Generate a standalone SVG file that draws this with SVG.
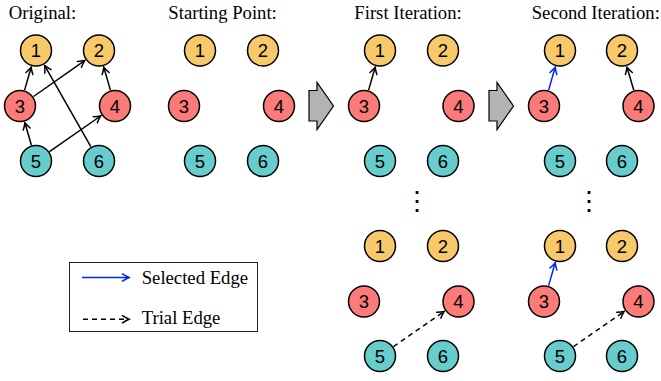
<svg xmlns="http://www.w3.org/2000/svg" width="661" height="381" viewBox="0 0 661 381">
<style>
.title{font-family:"Liberation Serif","Times New Roman",serif;font-size:18.7px;fill:#000}
.lbl{font-family:"Liberation Sans",Arial,sans-serif;font-size:18.5px;fill:#000;text-anchor:middle}
.n circle{stroke:#000;stroke-width:1.5}
.y circle{fill:#F7C96B}
.r circle{fill:#FA7B78}
.c circle{fill:#66CCCC}
.e{stroke:#000;stroke-width:1.5;fill:none}
.blue{stroke:#0022ff}
.dash{stroke-dasharray:5,4}
.big{fill:#B3B3B3;stroke:#000;stroke-width:1.2}
.vd{font-family:"DejaVu Serif",serif;font-size:26px;text-anchor:middle;fill:#000}
</style>
<defs>
<marker id="ak" viewBox="-9 -5 11 10" markerWidth="11" markerHeight="10" refX="0" refY="0" orient="auto" markerUnits="userSpaceOnUse">
<path d="M-6.5,-3.6 Q-2.7,-1.1 0,0 Q-2.7,1.1 -6.5,3.6" fill="none" stroke="#000" stroke-width="1.5" stroke-linecap="round"/>
</marker>
<marker id="ab" viewBox="-9 -5 11 10" markerWidth="11" markerHeight="10" refX="0" refY="0" orient="auto" markerUnits="userSpaceOnUse">
<path d="M-6.5,-3.6 Q-2.7,-1.1 0,0 Q-2.7,1.1 -6.5,3.6" fill="none" stroke="#0022ff" stroke-width="1.5" stroke-linecap="round"/>
</marker>
</defs>

<g id="titles">
<text class="title" x="8.7" y="18.5">Original:</text>
<text class="title" x="168.3" y="18.5">Starting Point:</text>
<text class="title" x="354.3" y="18.5">First Iteration:</text>
<text class="title" x="531.7" y="18.5">Second Iteration:</text>
</g>

<g id="connectors">
<line class="e" x1="24.6" y1="90.1" x2="31.2" y2="67.3" marker-end="url(#ak)"/>
<line class="e" x1="33.5" y1="96.5" x2="84.7" y2="60.6" marker-end="url(#ak)"/>
<line class="e" x1="90.8" y1="146.7" x2="44.7" y2="65.7" marker-end="url(#ak)"/>
<line class="e" x1="110.4" y1="90.1" x2="103.8" y2="67.3" marker-end="url(#ak)"/>
<line class="e" x1="31.4" y1="145.2" x2="24.9" y2="122.8" marker-end="url(#ak)"/>
<line class="e" x1="49.5" y1="151.6" x2="100.6" y2="116" marker-end="url(#ak)"/>

<line class="e" x1="368.6" y1="90.1" x2="375.2" y2="67.3" marker-end="url(#ak)"/>
<line class="e blue" x1="548.6" y1="90.1" x2="555.2" y2="67.3" marker-end="url(#ab)"/>
<line class="e" x1="633.8" y1="90.2" x2="627" y2="67.3" marker-end="url(#ak)"/>

<line class="e dash" x1="393.5" y1="346.6" x2="444.1" y2="311.5" marker-end="url(#ak)"/>
<line class="e blue" x1="548.6" y1="285.6" x2="555.2" y2="262.8" marker-end="url(#ab)"/>
<line class="e dash" x1="573.5" y1="346.6" x2="624.1" y2="311.5" marker-end="url(#ak)"/>
</g>

<g id="arrows">
<polygon class="big" points="309,90.5 317,90.5 317,82.5 333.5,106 317,129.5 317,121 309,121"/>
<polygon class="big" points="489,90.5 497,90.5 497,82.5 513.5,106 497,129.5 497,121 489,121"/>
</g>

<g id="dots">
<text class="vd" x="416.7" y="210">⋮</text>
<text class="vd" x="589" y="210">⋮</text>
</g>

<!-- Original -->
<g id="o1" class="n y"><circle cx="36" cy="50.5" r="15.5"/><text class="lbl" x="36" y="57">1</text></g>
<g id="o2" class="n y"><circle cx="99" cy="50.5" r="15.5"/><text class="lbl" x="99" y="57">2</text></g>
<g id="o3" class="n r"><circle cx="20" cy="106" r="15.5"/><text class="lbl" x="20" y="112.5">3</text></g>
<g id="o4" class="n r"><circle cx="115" cy="106" r="15.5"/><text class="lbl" x="115" y="112.5">4</text></g>
<g id="o5" class="n c"><circle cx="36" cy="161" r="15.5"/><text class="lbl" x="36" y="167.5">5</text></g>
<g id="o6" class="n c"><circle cx="99" cy="161" r="15.5"/><text class="lbl" x="99" y="167.5">6</text></g>

<!-- Starting -->
<g id="s1" class="n y"><circle cx="200" cy="50.5" r="15.5"/><text class="lbl" x="200" y="57">1</text></g>
<g id="s2" class="n y"><circle cx="263" cy="50.5" r="15.5"/><text class="lbl" x="263" y="57">2</text></g>
<g id="s3" class="n r"><circle cx="184" cy="106" r="15.5"/><text class="lbl" x="184" y="112.5">3</text></g>
<g id="s4" class="n r"><circle cx="279" cy="106" r="15.5"/><text class="lbl" x="279" y="112.5">4</text></g>
<g id="s5" class="n c"><circle cx="200" cy="161" r="15.5"/><text class="lbl" x="200" y="167.5">5</text></g>
<g id="s6" class="n c"><circle cx="263" cy="161" r="15.5"/><text class="lbl" x="263" y="167.5">6</text></g>

<!-- First iteration top -->
<g id="f1" class="n y"><circle cx="380" cy="50.5" r="15.5"/><text class="lbl" x="380" y="57">1</text></g>
<g id="f2" class="n y"><circle cx="443" cy="50.5" r="15.5"/><text class="lbl" x="443" y="57">2</text></g>
<g id="f3" class="n r"><circle cx="364" cy="106" r="15.5"/><text class="lbl" x="364" y="112.5">3</text></g>
<g id="f4" class="n r"><circle cx="458.5" cy="106" r="15.5"/><text class="lbl" x="458.5" y="112.5">4</text></g>
<g id="f5" class="n c"><circle cx="380" cy="161" r="15.5"/><text class="lbl" x="380" y="167.5">5</text></g>
<g id="f6" class="n c"><circle cx="443" cy="161" r="15.5"/><text class="lbl" x="443" y="167.5">6</text></g>

<!-- First iteration bottom -->
<g id="fb1" class="n y"><circle cx="380" cy="246" r="15.5"/><text class="lbl" x="380" y="252.5">1</text></g>
<g id="fb2" class="n y"><circle cx="443" cy="246" r="15.5"/><text class="lbl" x="443" y="252.5">2</text></g>
<g id="fb3" class="n r"><circle cx="364" cy="301.5" r="15.5"/><text class="lbl" x="364" y="308">3</text></g>
<g id="fb4" class="n r"><circle cx="458.5" cy="301.5" r="15.5"/><text class="lbl" x="458.5" y="308">4</text></g>
<g id="fb5" class="n c"><circle cx="380" cy="356" r="15.5"/><text class="lbl" x="380" y="362.5">5</text></g>
<g id="fb6" class="n c"><circle cx="443" cy="356" r="15.5"/><text class="lbl" x="443" y="362.5">6</text></g>

<!-- Second iteration top -->
<g id="t1" class="n y"><circle cx="560" cy="50.5" r="15.5"/><text class="lbl" x="560" y="57">1</text></g>
<g id="t2" class="n y"><circle cx="622" cy="50.5" r="15.5"/><text class="lbl" x="622" y="57">2</text></g>
<g id="t3" class="n r"><circle cx="544" cy="106" r="15.5"/><text class="lbl" x="544" y="112.5">3</text></g>
<g id="t4" class="n r"><circle cx="638.5" cy="106" r="15.5"/><text class="lbl" x="638.5" y="112.5">4</text></g>
<g id="t5" class="n c"><circle cx="560" cy="161" r="15.5"/><text class="lbl" x="560" y="167.5">5</text></g>
<g id="t6" class="n c"><circle cx="622" cy="161" r="15.5"/><text class="lbl" x="622" y="167.5">6</text></g>

<!-- Second iteration bottom -->
<g id="tb1" class="n y"><circle cx="560" cy="246" r="15.5"/><text class="lbl" x="560" y="252.5">1</text></g>
<g id="tb2" class="n y"><circle cx="622" cy="246" r="15.5"/><text class="lbl" x="622" y="252.5">2</text></g>
<g id="tb3" class="n r"><circle cx="544" cy="301.5" r="15.5"/><text class="lbl" x="544" y="308">3</text></g>
<g id="tb4" class="n r"><circle cx="638.5" cy="301.5" r="15.5"/><text class="lbl" x="638.5" y="308">4</text></g>
<g id="tb5" class="n c"><circle cx="560" cy="356" r="15.5"/><text class="lbl" x="560" y="362.5">5</text></g>
<g id="tb6" class="n c"><circle cx="622" cy="356" r="15.5"/><text class="lbl" x="622" y="362.5">6</text></g>

<g id="legend">
<rect x="69.5" y="262.5" width="188" height="69" fill="#fff" stroke="#222" stroke-width="1"/>
<line class="e blue" x1="82" y1="277.5" x2="129" y2="277.5" marker-end="url(#ab)"/>
<text class="title" x="141.7" y="284">Selected Edge</text>
<line class="e dash" x1="83" y1="319.3" x2="129" y2="319.3" marker-end="url(#ak)"/>
<text class="title" x="141.7" y="323.5">Trial Edge</text>
</g>
</svg>
